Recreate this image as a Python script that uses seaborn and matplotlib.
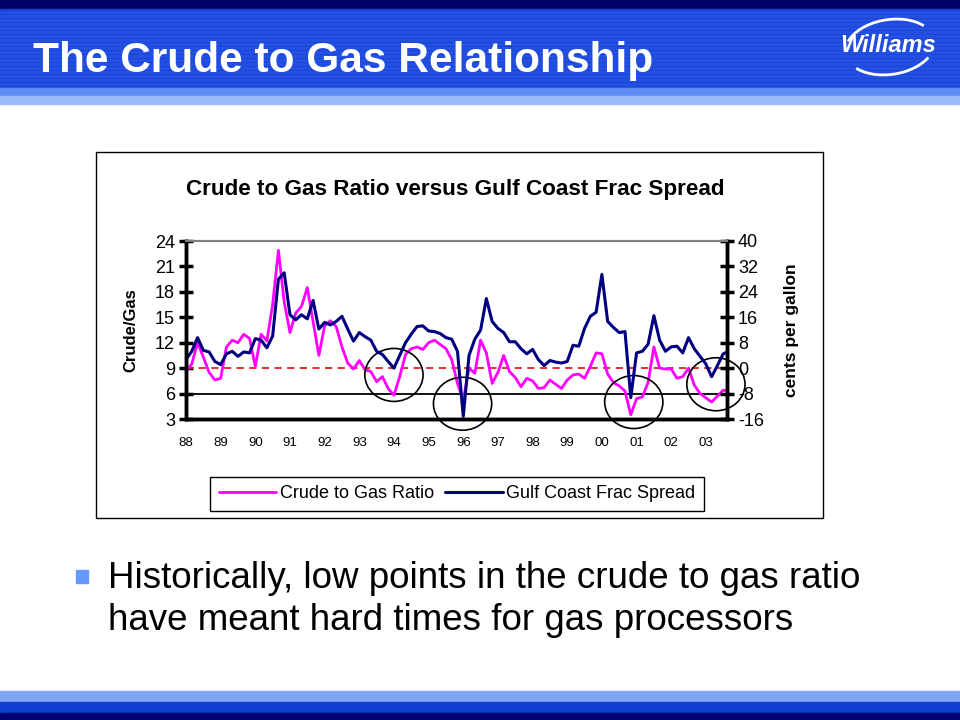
import numpy as np
import pandas as pd
import matplotlib
matplotlib.use('Agg')
import matplotlib.pyplot as plt
import seaborn as sns
from matplotlib.patches import Rectangle, Ellipse, Arc
from matplotlib.lines import Line2D

# bimonthly readings, Jan 1988 .. Sep 2003
months = np.arange(0, 190, 2)
year = 1988 + months / 12

crude_gas = [8.6, 9.5, 12.0, 10.3, 8.5, 7.6, 7.8, 11.5, 12.3, 12.0, 13.0, 12.5,
             9.2, 13.0, 12.2, 16.5, 22.9, 16.8, 13.2, 15.5, 16.3, 18.5, 14.5, 10.5,
             14.0, 14.6, 13.9, 11.5, 9.6, 8.9, 9.9, 8.8, 8.6, 7.4, 8.0, 6.6,
             5.8, 8.0, 10.6, 11.3, 11.5, 11.2, 12.0, 12.3, 11.8, 11.3, 10.0, 7.2,
             5.2, 9.0, 8.4, 12.3, 10.8, 7.2, 8.5, 10.5, 8.6, 7.9, 6.8, 7.8,
             7.5, 6.6, 6.7, 7.6, 7.1, 6.6, 7.6, 8.2, 8.3, 7.8, 9.2, 10.8,
             10.7, 8.3, 7.3, 6.9, 6.3, 3.5, 5.4, 5.6, 7.3, 11.5, 9.0, 8.9,
             8.9, 7.8, 8.0, 9.0, 7.0, 6.0, 5.5, 5.0, 5.7, 6.4, 6.3]

frac_spread = [2.7, 5.3, 9.6, 5.6, 5.1, 2.1, 1.1, 4.5, 5.3, 3.7, 5.1, 4.8,
               9.3, 8.8, 6.4, 10.1, 28.0, 30.0, 16.8, 15.2, 16.8, 15.5, 21.3, 12.3,
               14.4, 13.6, 14.7, 16.3, 12.3, 8.5, 11.2, 9.9, 8.8, 5.3, 4.3, 2.1,
               0.0, 4.0, 8.0, 10.7, 13.1, 13.3, 11.7, 11.5, 10.9, 9.6, 9.1, 5.3,
               -15.2, 4.0, 9.1, 12.0, 21.9, 14.7, 12.5, 11.2, 8.3, 8.3, 6.1, 4.5,
               5.9, 2.7, 0.8, 2.4, 1.9, 1.6, 2.1, 7.2, 6.9, 12.5, 16.3, 17.6,
               29.5, 14.7, 12.8, 11.2, 11.5, -9.3, 4.8, 5.3, 7.5, 16.5, 8.8, 5.3,
               6.7, 6.9, 4.8, 9.6, 6.1, 3.7, 1.3, -2.7, 0.8, 4.5, 5.3]

tick_years = list(range(1988, 2004))
tick_labels = ['88', '89', '90', '91', '92', '93', '94', '95', '96', '97',
               '98', '99', '00', '01', '02', '03']

# low points that are circled (year, crude/gas level)
circle_x = [1994.0, 1995.98, 2000.92, 2003.29]
circle_y = [8.2, 4.8, 5.0, 7.1]

df = pd.DataFrame({'year': year, 'ratio': crude_gas, 'spread': frac_spread})

sns.set_style('white')
plt.rcParams['font.family'] = ['Liberation Sans', 'DejaVu Sans']
plt.rcParams['axes.unicode_minus'] = False
for k in ('text.color', 'axes.labelcolor', 'xtick.color', 'ytick.color'):
    plt.rcParams[k] = 'black'

fig = plt.figure(figsize=(9.6, 7.2), dpi=100)

# slide background: title band
def band(y0, y1, color):
    fig.patches.append(Rectangle((0, 1 - y1 / 720), 1, (y1 - y0) / 720,
                                 transform=fig.transFigure, color=color, zorder=0))

band(0, 9, '#000066')
band(9, 88, '#1840d4')
for yy in range(11, 88, 4):
    band(yy, yy + 2, '#2450e2')
band(88, 96, '#5d8cf2')
band(96, 104, '#9bbaf9')
# bottom band
band(691, 702, '#7fa6f5')
band(702, 713, '#1040d0')
band(713, 720, '#000070')

fig.text(33 / 960, 1 - 61 / 720, 'The Crude to Gas Relationship', color='white',
         fontsize=30.5, fontweight='bold', va='center', ha='left')
fig.text(888 / 960, 1 - 46 / 720, 'Williams', color='white', fontsize=17,
         fontweight='bold', fontstyle='italic', va='center', ha='center')
fig.patches.append(Arc((890 / 960, 1 - 47 / 720), 0.095, 0.075, angle=20,
                       theta1=20, theta2=150, transform=fig.transFigure,
                       color='white', lw=2))
fig.patches.append(Arc((890 / 960, 1 - 47 / 720), 0.095, 0.075, angle=20,
                       theta1=200, theta2=320, transform=fig.transFigure,
                       color='white', lw=2))

# chart frame
fig.patches.append(Rectangle((96 / 960, 1 - 518 / 720), 727 / 960, 366 / 720,
                             transform=fig.transFigure, facecolor='white',
                             edgecolor='black', lw=1, zorder=1))

ax = fig.add_axes([186 / 960, 1 - 419 / 720, 541 / 960, 178 / 720])
ax.set_zorder(2)
ax.patch.set_alpha(0)
sns.lineplot(data=df, x='year', y='ratio', ax=ax, color='#ff00ff', lw=2.0,
             label='Crude to Gas Ratio', legend=False)
ax.axhline(9, color='#e02020', lw=1.3, ls=(0, (4, 3)), zorder=1)
ax.axhline(6, color='black', lw=1.3, zorder=1)

ax2 = ax.twinx()
sns.lineplot(data=df, x='year', y='spread', ax=ax2, color='#000080', lw=2.2,
             label='Gulf Coast Frac Spread', legend=False)

ax.set_xlim(1988, 2003.61)
ax.set_ylim(3, 24)
ax2.set_ylim(-16, 40)
ax.set_yticks(range(3, 25, 3))
ax2.set_yticks(range(-16, 41, 8))
ax.set_xticks(tick_years)
ax.set_xticklabels(tick_labels, fontsize=9.5)
ax.set_xlabel('')
ax.set_ylabel('Crude/Gas', fontsize=12, fontweight='bold', labelpad=12)
ax2.set_ylabel('cents per gallon', fontsize=12.5, fontweight='bold', labelpad=14)
ax.tick_params(axis='x', length=0, pad=13)
ax.tick_params(axis='y', direction='inout', length=10, width=2.5, labelsize=13, pad=3)
ax2.tick_params(axis='y', direction='inout', length=10, width=2.5, labelsize=13, pad=3)

for a in (ax, ax2):
    for s in ('left', 'right', 'bottom'):
        a.spines[s].set_color('black')
        a.spines[s].set_linewidth(2.5)
    a.spines['top'].set_color('#808080')
    a.spines['top'].set_linewidth(1.5)

for cx, cy in zip(circle_x, circle_y):
    ax2.add_patch(Ellipse((cx, cy), 1.68, 6.25, transform=ax.transData,
                          fill=False, edgecolor='black', lw=1.2, clip_on=False))

fig.text(455 / 960, 1 - 190 / 720, 'Crude to Gas Ratio versus Gulf Coast Frac Spread',
         fontsize=16.2, fontweight='bold', ha='center', va='center', zorder=3)

handles = [Line2D([], [], color='#ff00ff', lw=2.0),
           Line2D([], [], color='#000080', lw=2.2)]
leg = fig.legend(handles, ['Crude to Gas Ratio', 'Gulf Coast Frac Spread'],
                 loc='center', bbox_to_anchor=(457 / 960, 1 - 494 / 720), ncol=2,
                 frameon=True, fancybox=False, edgecolor='black', framealpha=1,
                 handlelength=3.2, handletextpad=0.2, columnspacing=0.6,
                 borderpad=0.45, prop={'size': 13})
leg.get_frame().set_linewidth(1)
leg.set_zorder(3)

# bullet text
fig.patches.append(Rectangle((76 / 960, 1 - 583 / 720), 12 / 960, 13 / 720,
                             transform=fig.transFigure, color='#6699ff'))
fig.text(108 / 960, 1 - 578 / 720, 'Historically, low points in the crude to gas ratio',
         fontsize=26.5, va='center', ha='left')
fig.text(108 / 960, 1 - 620 / 720, 'have meant hard times for gas processors',
         fontsize=26.5, va='center', ha='left')

fig.savefig('out.png', dpi=100)
plt.close()
